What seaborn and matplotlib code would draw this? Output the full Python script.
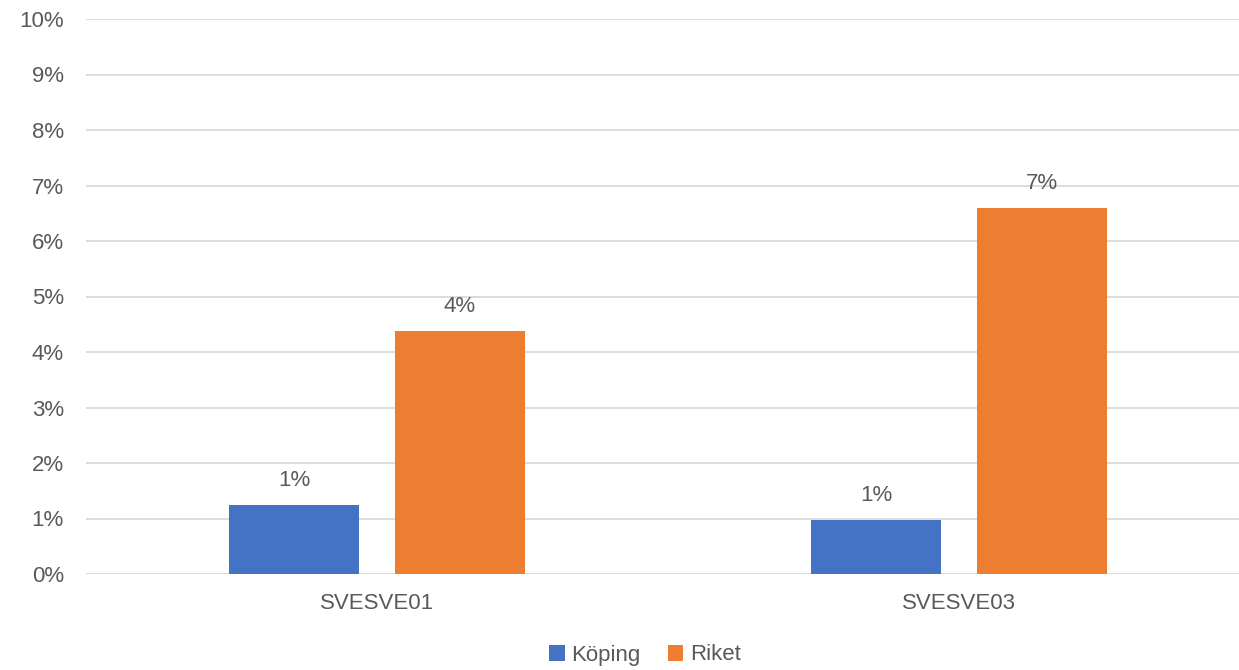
import pandas as pd
import matplotlib
matplotlib.use("Agg")
import matplotlib.pyplot as plt
import seaborn as sns
from matplotlib.ticker import PercentFormatter

# Data (share in percent)
categories = ["SVESVE01", "SVESVE03"]
koping = [1.24, 0.97]
riket = [4.38, 6.59]
series = ["Köping", "Riket"]

df = pd.DataFrame({
    "kategori": categories * 2,
    "serie": [series[0]] * 2 + [series[1]] * 2,
    "andel": koping + riket,
})

sns.set_theme(style="white")
plt.rcParams["font.family"] = ["Liberation Sans", "DejaVu Sans"]
text_color = "#595959"
fs = 16

fig = plt.figure(figsize=(12.39, 6.70), dpi=100)
ax = fig.add_axes([86 / 1239, 1 - 574 / 670, (1239 - 86) / 1239, (574 - 19) / 670])

sns.barplot(data=df, x="kategori", y="andel", hue="serie",
            palette=["#4472C4", "#ED7D31"], saturation=1, width=0.57, gap=0.217,
            linewidth=0, ax=ax, legend=True)

ax.set_ylim(0, 10)
ax.set_xlim(-0.5, 1.5 - 11 / 582)
ax.set_yticks(range(0, 11))
ax.yaxis.set_major_formatter(PercentFormatter(decimals=0))
ax.grid(axis="y", color="#D9D9D9", linewidth=1.3)
ax.set_axisbelow(True)
for s in ax.spines.values():
    s.set_visible(False)
ax.tick_params(axis="y", length=0, pad=16, labelsize=fs, labelcolor=text_color)
ax.tick_params(axis="x", length=0, pad=14, labelsize=fs, labelcolor=text_color)
ax.set_xlabel("")
ax.set_ylabel("")

# Value labels
for cont in ax.containers:
    ax.bar_label(cont, labels=[f"{v:.0f}%" for v in cont.datavalues],
                 padding=10, fontsize=fs, color=text_color)

handles, labels = ax.get_legend_handles_labels()
ax.legend_.remove()
fig.legend(handles, labels, loc="center", bbox_to_anchor=(645 / 1239, 1 - 655 / 670),
           ncol=2, frameon=False, fontsize=fs, labelcolor=text_color,
           handlelength=0.7, handleheight=0.7, handletextpad=0.3, columnspacing=1.2)

fig.savefig("out.png", dpi=100)
